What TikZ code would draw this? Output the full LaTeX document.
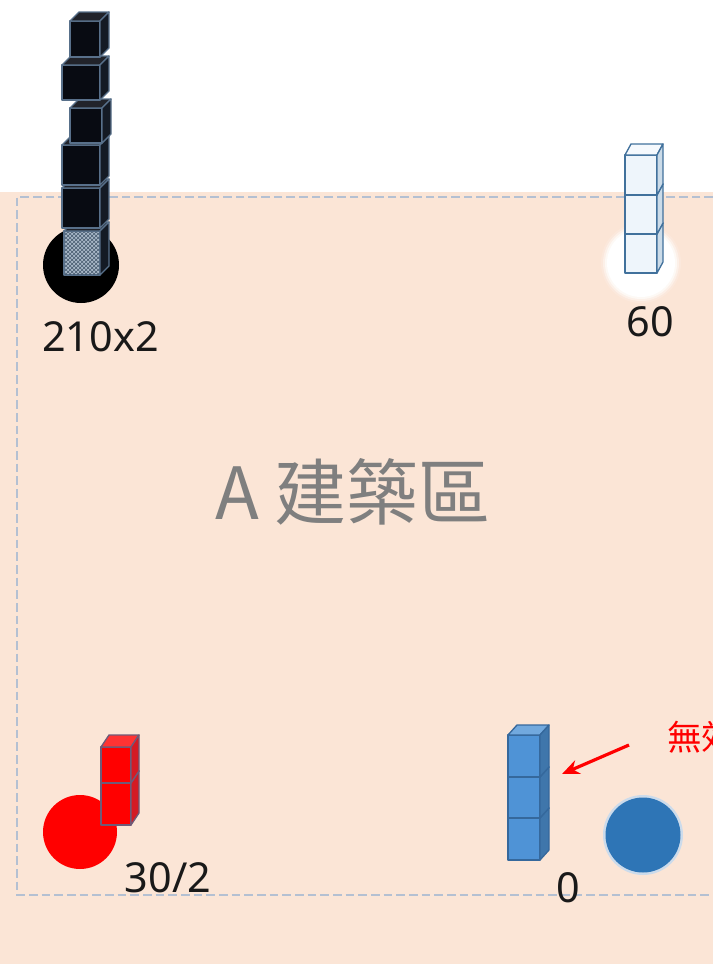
\documentclass[tikz,border=0pt]{standalone}
\usepackage{fontspec}
\setmainfont{Noto Sans}
\newfontfamily\cjk{Noto Sans CJK TC}
\usetikzlibrary{patterns,arrows.meta}

\definecolor{peach}{HTML}{FBE5D6}
\definecolor{framegray}{HTML}{B4C0D2}
\definecolor{blk}{HTML}{080B12}
\definecolor{blkline}{HTML}{58708A}
\definecolor{tilefill}{HTML}{A9B8C8}
\definecolor{icefill}{HTML}{EEF5FB}
\definecolor{iceline}{HTML}{41719C}
\definecolor{redline}{HTML}{6F5A78}
\definecolor{bluefill}{HTML}{4F93D6}
\definecolor{blueline}{HTML}{35689C}
\definecolor{bluedisc}{HTML}{2E75B6}
\definecolor{labelgray}{HTML}{7F7F7F}

% depth offset of the cubes
\def\cdx{9}
\def\cdy{9}
% \cubeat{x}{y}{w}{h}{front}{top}{side}{line}: front face with top-left corner (x,y)
\newcommand{\cubeat}[8]{%
  \begin{scope}[shift={(#1,#2)}, line width=1pt, draw=#8, line join=round]
    \filldraw[fill=#5] (0,0) rectangle (#3,#4);
    \filldraw[fill=#6] (0,0) -- (\cdx,-\cdy) -- ({#3+\cdx},-\cdy) -- (#3,0) -- cycle;
    \filldraw[fill=#7] (#3,0) -- ({#3+\cdx},-\cdy) -- ({#3+\cdx},{#4-\cdy}) -- (#3,#4) -- cycle;
  \end{scope}}

\tikzset{
  countlabel/.style={font=\fontsize{31}{34}\selectfont, text=black!90, inner sep=0pt}
}

\begin{document}
\begin{tikzpicture}[x=0.75pt,y=-0.75pt]
  \useasboundingbox (0,0) rectangle (713,964);
  \clip (0,0) rectangle (713,964);

  % zone background and dashed boundary
  \fill[peach] (0,192) rectangle (713,964);
  \draw[framegray, line width=1.5pt, dash pattern=on 6.5pt off 3pt]
    (713,197) -- (17,197) -- (17,895) -- (713,895);

  % zone title
  \node[font=\cjk\fontsize{54}{60}\selectfont, text=labelgray] (title) at (353,492) {A 建築區};

  % --- black stack ---
  \fill[black] (81,265) circle[radius=38];
  \def\cdx{9}\def\cdy{9}
  \cubeat{64}{231}{36}{44}{tilefill}{blk!90!white}{blk!85!blkline}{blkline}
  \fill[pattern=crosshatch, pattern color=blkline!80!black] (65,232) rectangle (99,274);
  \cubeat{62}{188}{38}{40}{blk}{blk!90!white}{blk!85!blkline}{blkline}
  \cubeat{62}{145}{38}{40}{blk}{blk!90!white}{blk!85!blkline}{blkline}
  \cubeat{70}{108}{32}{35}{blk}{blk!90!white}{blk!85!blkline}{blkline}
  \cubeat{62}{65}{38}{35}{blk}{blk!90!white}{blk!85!blkline}{blkline}
  \cubeat{70}{21}{30}{36}{blk}{blk!90!white}{blk!85!blkline}{blkline}
  \node[countlabel, anchor=west] (lblack) at (42,337) {210x2};

  % --- white stack ---
  \foreach \r/\o in {40/0.15, 38/0.35, 36/0.6, 34/1}
    \fill[white, opacity=\o] (641,263) circle[radius=\r];
  \def\cdx{6}\def\cdy{11}
  \cubeat{625}{234}{32}{39}{icefill}{icefill!60!white}{icefill!80!iceline}{iceline}
  \cubeat{625}{195}{32}{39}{icefill}{icefill!60!white}{icefill!80!iceline}{iceline}
  \cubeat{625}{155}{32}{40}{icefill}{icefill!60!white}{icefill!80!iceline}{iceline}
  \node[countlabel] (lwhite) at (650,322) {60};

  % --- red stack ---
  \fill[red] (80,832) circle[radius=37];
  \def\cdx{8}\def\cdy{12}
  \cubeat{101}{783}{30}{42}{red}{red!80!white}{red!70!redline}{redline}
  \cubeat{101}{747}{30}{36}{red}{red!80!white}{red!70!redline}{redline}
  \node[countlabel] (lred) at (168,878) {30/2};

  % --- blue stack ---
  \fill[bluefill!35!white, opacity=0.8] (643,835) circle[radius=40];
  \fill[bluedisc] (643,835) circle[radius=37.5];
  \def\cdx{9}\def\cdy{10}
  \cubeat{508}{818}{32}{42}{bluefill}{bluefill!80!white}{bluefill!80!black}{blueline}
  \cubeat{508}{777}{32}{41}{bluefill}{bluefill!80!white}{bluefill!80!black}{blueline}
  \cubeat{508}{735}{32}{42}{bluefill}{bluefill!80!white}{bluefill!80!black}{blueline}
  \node[countlabel] (lblue) at (568,888) {0};

  % --- annotation ---
  \node[font=\cjk\fontsize{26}{30}\selectfont, text=red, anchor=west, inner sep=0pt] (note) at (667,737) {無效};
  \coordinate (arrowfrom) at (629,745);
  \coordinate (arrowto) at (562,774);
  \draw[red, line width=2.4pt, -{Stealth[length=13pt, width=11pt]}] (arrowfrom) -- (arrowto);
\end{tikzpicture}
\end{document}
